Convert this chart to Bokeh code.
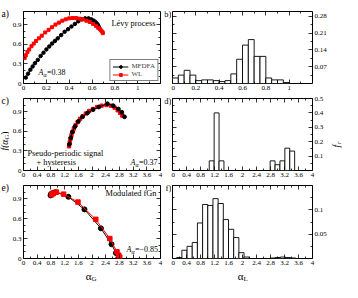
import math
from bokeh.plotting import figure
from bokeh.models import Range1d, LinearAxis, FixedTicker, Label, Legend, LegendItem
from bokeh.layouts import row, column
from bokeh.embed import file_html
from bokeh.resources import INLINE

FONT = "Liberation Serif"

# ---------------- data ----------------
# panel a: Levy process, f(alpha) spectra
a_mfdfa_x = [0.02, 0.04, 0.06, 0.08, 0.10, 0.125, 0.15, 0.175, 0.20, 0.225, 0.25, 0.275, 0.30, 0.33, 0.36,
             0.39, 0.42, 0.45, 0.48, 0.51, 0.54, 0.57, 0.595, 0.615, 0.63, 0.64, 0.65, 0.655, 0.66]
a_mfdfa_y = [0.09, 0.15, 0.21, 0.26, 0.31, 0.36, 0.42, 0.47, 0.52, 0.565, 0.61, 0.65, 0.69, 0.74, 0.79,
             0.83, 0.87, 0.91, 0.95, 0.98, 0.995, 0.995, 0.98, 0.96, 0.94, 0.92, 0.90, 0.88, 0.86]
a_wl_x = [0.01, 0.02, 0.035, 0.05, 0.07, 0.09, 0.11, 0.135, 0.16, 0.19, 0.22, 0.25, 0.28, 0.31, 0.34,
          0.37, 0.40, 0.43, 0.46, 0.49, 0.52, 0.55, 0.58, 0.61, 0.635, 0.655, 0.67, 0.68, 0.69, 0.695]
a_wl_y = [0.39, 0.43, 0.48, 0.52, 0.57, 0.61, 0.65, 0.69, 0.73, 0.78, 0.82, 0.86, 0.90, 0.93, 0.96,
          0.98, 0.995, 1.0, 1.0, 0.99, 0.98, 0.96, 0.94, 0.91, 0.88, 0.85, 0.83, 0.81, 0.79, 0.77]

# panel b: histogram of local alpha (Levy)
b_left = [0.0, 0.05, 0.10, 0.15, 0.20, 0.25, 0.30, 0.35, 0.40, 0.45,
          0.50, 0.55, 0.60, 0.65, 0.70, 0.75, 0.80, 0.85, 0.90, 0.95]
b_freq = [0.023, 0.035, 0.055, 0.035, 0.012, 0.015, 0.015, 0.012, 0.008, 0.012,
          0.040, 0.101, 0.160, 0.183, 0.113, 0.113, 0.023, 0.015, 0.015, 0.004]
b_binw = 0.05

# panel c: pseudo-periodic signal + hysteresis
c_mfdfa_x = [1.34, 1.38, 1.43, 1.50, 1.60, 1.72, 1.87, 2.03, 2.20, 2.45, 2.62, 2.77, 2.87, 2.95]
c_mfdfa_y = [0.40, 0.50, 0.59, 0.67, 0.75, 0.82, 0.88, 0.93, 0.97, 1.02, 0.99, 0.94, 0.89, 0.82]
c_wl_x = [1.33, 1.35, 1.37, 1.40, 1.43, 1.47, 1.52, 1.58, 1.65, 1.73, 1.82, 1.92, 2.03, 2.15,
          2.28, 2.42, 2.55, 2.66, 2.75, 2.82, 2.88]
c_wl_y = [0.37, 0.43, 0.48, 0.54, 0.59, 0.64, 0.69, 0.74, 0.79, 0.83, 0.87, 0.91, 0.94, 0.97,
          0.99, 1.00, 0.99, 0.96, 0.92, 0.88, 0.84]

# panel d: histogram
d_left = [1.05, 1.19, 1.33, 2.79, 2.93, 3.07, 3.21, 3.35]
d_freq = [0.067, 0.40, 0.067, 0.067, 0.04, 0.067, 0.155, 0.135]
d_binw = 0.14

# panel e: modulated fGn
e_mfdfa_x = [0.79, 0.80, 0.83, 0.88, 0.94, 1.31, 1.78, 2.26, 2.57, 2.70, 2.77]
e_mfdfa_y = [0.95, 0.97, 0.98, 0.99, 1.00, 0.93, 0.74, 0.455, 0.215, 0.083, 0.01]
e_wl_x = [0.82, 0.85, 0.87, 0.96, 1.17, 1.59, 2.11, 2.52, 2.73, 2.78, 2.81]
e_wl_y = [0.96, 0.98, 0.98, 1.00, 0.97, 0.85, 0.59, 0.30, 0.10, 0.05, 0.02]

# panel f: histogram
f_left = [0.12, 0.268, 0.416, 0.564, 0.712, 0.86, 1.008, 1.156, 1.304, 1.452, 1.60, 1.748, 1.896, 2.044,
          2.784, 2.932, 3.08, 3.228, 3.376]
f_freq = [0.002, 0.017, 0.025, 0.033, 0.073, 0.111, 0.109, 0.123, 0.113, 0.080, 0.060, 0.043, 0.012, 0.003,
          0.001, 0.002, 0.003, 0.002, 0.001]
f_binw = 0.148

# ticks
xt_small = [0, 0.2, 0.4, 0.6, 0.8, 1]
xt_small_lab = ["0", "0.2", "0.4", "0.6", "0.8", "1"]
xt_small_minor = [0.1, 0.3, 0.5, 0.7, 0.9, 1.1]
xt_big = [0, 0.4, 0.8, 1.2, 1.6, 2, 2.4, 2.8, 3.2, 3.6, 4]
xt_big_lab = ["0", "0.4", "0.8", "1.2", "1.6", "2", "2.4", "2.8", "3.2", "3.6", "4"]
xt_big_minor = [0.2, 0.6, 1.0, 1.4, 1.8, 2.2, 2.6, 3.0, 3.4, 3.8]
yt_f = [0, 0.3, 0.6, 0.9]
yt_f_lab = ["0", "0.3", "0.6", "0.9"]
yt_f_minor = [0.1, 0.2, 0.4, 0.5, 0.7, 0.8, 1.0]
yt_b = [0.07, 0.14, 0.21, 0.28]
yt_b_lab = ["0.07", "0.14", "0.21", "0.28"]
yt_b_minor = [0.035, 0.105, 0.175, 0.245]
yt_d = [0.1, 0.2, 0.3, 0.4, 0.5]
yt_d_lab = ["0.1", "0.2", "0.3", "0.4", "0.5"]
yt_d_minor = [0.05, 0.15, 0.25, 0.35, 0.45]
yt_ff = [0.05, 0.1]
yt_ff_lab = ["0.05", "0.1"]
yt_ff_minor = [0.025, 0.075, 0.125]

# ---------------- layout sizes ----------------
LCOL, MCOL, RCOL = 9, 7, 12
LW, RW = 155, 159
ROWS = [(95, 11, 12), (87, 3, 12), (88, 3, 12)]   # (height, top border, bottom border)
TOPH = sum(r[0] for r in ROWS)
BOTH = 12


def style_axis(ax, ticks, minor, labels):
    ax.ticker = FixedTicker(ticks=ticks, minor_ticks=minor)
    ax.axis_line_color = None
    ax.major_tick_in = 4
    ax.major_tick_out = 0
    ax.minor_tick_in = 2
    ax.minor_tick_out = 0
    ax.major_tick_line_color = "black"
    ax.minor_tick_line_color = "black"
    ax.major_tick_line_width = 0.8
    ax.minor_tick_line_width = 0.8
    if labels is None:
        ax.major_label_text_font_size = "0px"
        ax.major_label_standoff = 0
        ax.major_label_text_alpha = 0
    else:
        ax.major_label_overrides = dict(zip(ticks, labels))
        ax.major_label_text_font = FONT
        ax.major_label_text_font_size = "7px"
        ax.major_label_text_color = "black"
        ax.major_label_standoff = 2


def panel(col, r, xr, yr, xt, yt):
    h, bt, bb = ROWS[r]
    if col == 0:
        w, bl, br, side, other = LW, 11, 4, "left", "right"
    else:
        w, bl, br, side, other = RW, 1, 18, "right", "left"
    p = figure(width=w, height=h, x_range=Range1d(*xr), y_range=Range1d(*yr),
               output_backend="svg", toolbar_location=None,
               x_axis_location="below", y_axis_location=side,
               min_border_left=bl, min_border_right=br, min_border_top=bt, min_border_bottom=bb)
    p.grid.visible = False
    p.outline_line_color = "black"
    p.outline_line_width = 1
    p.background_fill_color = "white"
    p.border_fill_color = "white"
    style_axis(p.xaxis[0], xt[0], xt[2], xt[1])
    style_axis(p.yaxis[0], yt[0], yt[2], yt[1])
    top = LinearAxis()
    style_axis(top, xt[0], xt[2], None)
    p.add_layout(top, "above")
    oth = LinearAxis()
    style_axis(oth, yt[0], yt[2], None)
    p.add_layout(oth, other)
    return p


def blank(w, h):
    p = figure(width=w, height=h, x_range=Range1d(0, w), y_range=Range1d(0, h),
               output_backend="svg", toolbar_location=None,
               x_axis_location=None, y_axis_location=None,
               min_border=0, min_border_left=0, min_border_right=0,
               min_border_top=0, min_border_bottom=0)
    p.grid.visible = False
    p.outline_line_color = None
    p.background_fill_color = "white"
    p.border_fill_color = "white"
    return p


def txt(p, x, y, s, size="8.3px", align="left", baseline="middle", style="normal", xo=0, yo=0, angle=0):
    p.add_layout(Label(x=x, y=y, text=s, x_offset=xo, y_offset=yo, text_font=FONT,
                       text_font_size=size, text_align=align, text_baseline=baseline,
                       text_font_style=style, angle=angle, text_color="black"))


def a_alpha(p, x, y, xo, yo, val):
    txt(p, x, y, "A", size="8px", style="italic", xo=xo, yo=yo)
    txt(p, x, y, "α", size="6px", style="italic", xo=xo + 4.9, yo=yo - 2.5)
    txt(p, x, y, "=" + val, size="8px", xo=xo + 8.4, yo=yo)


def curves(p, bx, by, rx, ry, msize, black_on_top=False):
    def black():
        l = p.line(bx, by, line_color="black", line_width=1)
        s = p.scatter(bx, by, marker="circle", size=msize, fill_color="black", line_color="black")
        return l, s

    def red():
        l = p.line(rx, ry, line_color="#ff0000", line_width=1)
        s = p.scatter(rx, ry, marker="square", size=msize - 0.5, fill_color="#ff0000", line_color="#ff0000")
        return l, s

    if black_on_top:
        r = red()
        b = black()
    else:
        b = black()
        r = red()
    return b, r


def hist(p, left, freq, w):
    right = [v + w for v in left]
    p.quad(left=left, right=right, bottom=0, top=freq, fill_color="white",
           line_color="black", line_width=0.9)


XS = (xt_small, xt_small_lab, xt_small_minor)
XB = (xt_big, xt_big_lab, xt_big_minor)
YF = (yt_f, yt_f_lab, yt_f_minor)

# ---------------- panel a ----------------
ra = ((0, 1.2), (0, 1.1))
pa = panel(0, 0, ra[0], ra[1], XS, YF)
(bl_, bs_), (rl_, rs_) = curves(pa, a_mfdfa_x, a_mfdfa_y, a_wl_x, a_wl_y, 3.5)
leg = Legend(items=[LegendItem(label="MFDFA", renderers=[bl_, bs_]),
                    LegendItem(label="WL", renderers=[rl_, rs_])],
             location="bottom_right")
leg.label_text_font = FONT
leg.label_text_font_size = "7px"
leg.glyph_width = 16
leg.glyph_height = 7
leg.label_height = 7
leg.label_standoff = 3
leg.spacing = 0
leg.padding = 2
leg.margin = 2
leg.border_line_color = "black"
leg.border_line_width = 0.8
leg.background_fill_alpha = 1
pa.add_layout(leg)
txt(pa, ra[0][1], ra[1][1], "Lévy process", align="right", xo=-5, yo=-12)
a_alpha(pa, ra[0][0], ra[1][0], 15, 11, "0.38")

# ---------------- panel b ----------------
rb = ((0, 1.2), (0, 0.3))
pb = panel(1, 0, rb[0], rb[1], XS, (yt_b, yt_b_lab, yt_b_minor))
hist(pb, b_left, b_freq, b_binw)

# ---------------- panel c ----------------
rc = ((0, 4), (0, 1.1))
pc = panel(0, 1, rc[0], rc[1], XB, YF)
curves(pc, c_mfdfa_x, c_mfdfa_y, c_wl_x, c_wl_y, 3.8, black_on_top=True)
txt(pc, rc[0][0], rc[1][0], "Pseudo-periodic signal", xo=4, yo=17.5)
txt(pc, rc[0][0], rc[1][0], "+ hysteresis", xo=13, yo=8)
a_alpha(pc, rc[0][1], rc[1][0], -30, 8, "0.37")

# ---------------- panel d ----------------
rd = ((0, 4), (0, 0.5))
pd = panel(1, 1, rd[0], rd[1], XB, (yt_d, yt_d_lab, yt_d_minor))
hist(pd, d_left, d_freq, d_binw)

# ---------------- panel e ----------------
re_ = ((0, 4), (0, 1.1))
pe = panel(0, 2, re_[0], re_[1], XB, YF)
curves(pe, e_mfdfa_x, e_mfdfa_y, e_wl_x, e_wl_y, 5)
txt(pe, re_[0][1], re_[1][1], "Modulated fGn", align="right", xo=-4, yo=-8)
a_alpha(pe, re_[0][1], re_[1][0], -34, 9, "−0.85")

# ---------------- panel f ----------------
rf = ((0, 4), (0, 0.15))
pf = panel(1, 2, rf[0], rf[1], XB, (yt_ff, yt_ff_lab, yt_ff_minor))
hist(pf, f_left, f_freq, f_binw)

# ---------------- text columns / rows (outside the frames) ----------------
# left text column: panel tags and the shared f(alpha_G) label
lcol = blank(LCOL, TOPH)
top1 = TOPH - ROWS[0][1]
top2 = TOPH - ROWS[0][0] - ROWS[1][1]
top3 = TOPH - ROWS[0][0] - ROWS[1][0] - ROWS[2][1]
for s, yy in (("a)", top1), ("c)", top2), ("e)", top3)):
    txt(lcol, LCOL - 0.5, yy - 2, s, size="9.5px", align="right")
ylab_c = 130
txt(lcol, 4.5, ylab_c - 10, "f(α", size="9.5px", style="italic", angle=math.pi / 2)
txt(lcol, 6.0, ylab_c + 1.0, "G", size="6.5px", angle=math.pi / 2)
txt(lcol, 4.5, ylab_c + 5.8, ")", size="9.5px", angle=math.pi / 2)

# middle text column: b), d), f)
mcol = blank(MCOL, TOPH)
for s, yy in (("b)", top1), ("d)", top2), ("f)", top3)):
    txt(mcol, MCOL, yy - 2, s, size="9px", align="right")

# right text column: f_r
rcol = blank(RCOL, TOPH)
txt(rcol, 6, ylab_c - 7, "f", size="9.5px", style="italic", angle=math.pi / 2)
txt(rcol, 8, ylab_c - 3.5, "r", size="6.5px", style="italic", angle=math.pi / 2)

# bottom row: alpha_G and alpha_L
bot = blank(LCOL + LW + MCOL + RW + RCOL, BOTH)
xg = LCOL + 11 + (LW - 15) / 2
xl = LCOL + LW + MCOL + 1 + (RW - 19) / 2
for xc, sub in ((xg, "G"), (xl, "L")):
    txt(bot, xc + 1, BOTH - 5, "α", size="11px", align="right")
    txt(bot, xc + 1, BOTH - 8, sub, size="7px", align="left")

layout = column(
    row(lcol, column(pa, pc, pe), mcol, column(pb, pd, pf), rcol),
    bot,
)
open("out.html", "w").write(file_html(layout, INLINE))
